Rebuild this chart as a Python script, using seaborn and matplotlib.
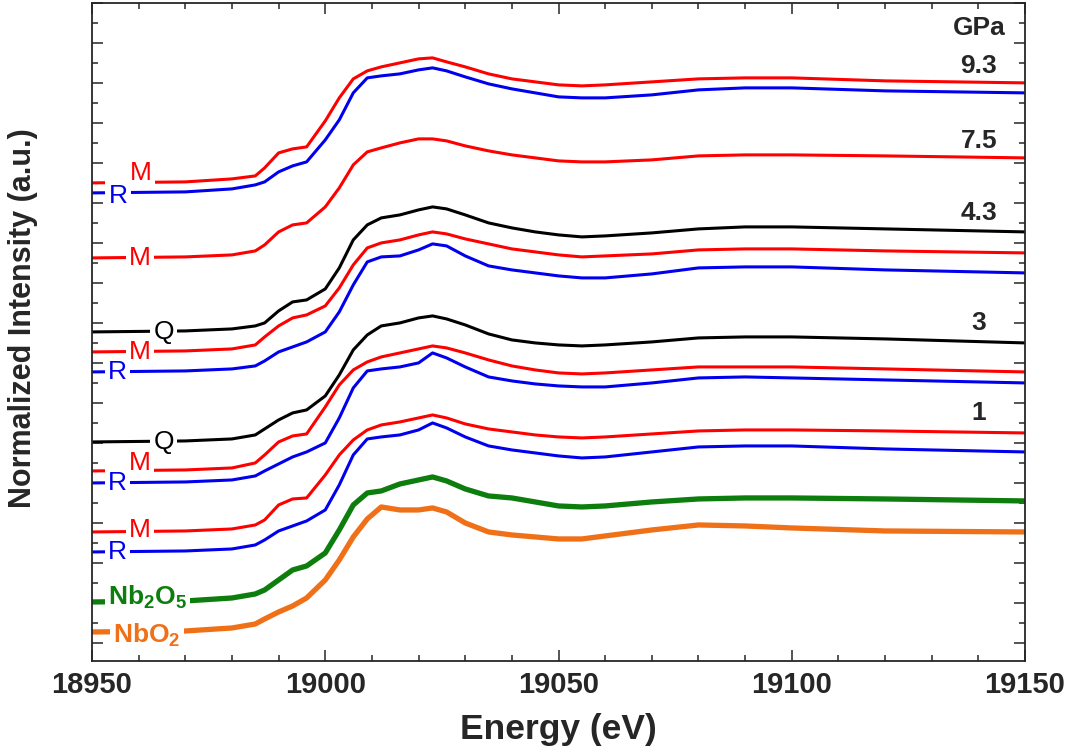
import numpy as np
import pandas as pd
import matplotlib
matplotlib.use("Agg")
import matplotlib.pyplot as plt
from matplotlib.ticker import MultipleLocator, NullFormatter
import seaborn as sns

# energy grid (eV)
energy = [18950, 18970, 18980, 18985, 18987, 18990, 18993, 18996, 19000, 19003, 19006,
          19009, 19012, 19016, 19020, 19023, 19026, 19030, 19035, 19040, 19045,
          19050, 19055, 19060, 19070, 19080, 19090, 19100, 19120, 19150]

# normalized intensity, already stacked with offsets
m_93 = [2.300, 2.305, 2.320, 2.335, 2.375, 2.450, 2.470, 2.480, 2.610, 2.725, 2.820, 2.860, 2.880, 2.900, 2.920, 2.925,
        2.905, 2.880, 2.845, 2.820, 2.805, 2.790, 2.785, 2.790, 2.805, 2.820, 2.825, 2.825, 2.810, 2.800]
r_93 = [2.250, 2.255, 2.270, 2.290, 2.305, 2.355, 2.385, 2.405, 2.515, 2.615, 2.750, 2.825, 2.835, 2.845, 2.865, 2.875,
        2.860, 2.830, 2.795, 2.770, 2.750, 2.730, 2.725, 2.725, 2.740, 2.765, 2.775, 2.775, 2.760, 2.750]
m_75 = [1.925, 1.930, 1.940, 1.960, 1.990, 2.055, 2.090, 2.100, 2.180, 2.275, 2.390, 2.455, 2.475, 2.500, 2.520, 2.520,
        2.510, 2.485, 2.460, 2.440, 2.425, 2.410, 2.405, 2.405, 2.415, 2.435, 2.440, 2.440, 2.435, 2.425]
q_43 = [1.555, 1.560, 1.570, 1.585, 1.600, 1.660, 1.705, 1.715, 1.770, 1.875, 2.015, 2.090, 2.125, 2.140, 2.165, 2.180,
        2.170, 2.140, 2.100, 2.075, 2.055, 2.040, 2.030, 2.035, 2.050, 2.070, 2.080, 2.080, 2.070, 2.055]
m_43 = [1.455, 1.460, 1.470, 1.490, 1.530, 1.585, 1.625, 1.640, 1.685, 1.775, 1.890, 1.975, 2.000, 2.015, 2.040, 2.055,
        2.045, 2.020, 1.995, 1.970, 1.955, 1.940, 1.930, 1.935, 1.945, 1.965, 1.970, 1.970, 1.960, 1.950]
r_43 = [1.355, 1.360, 1.370, 1.385, 1.410, 1.455, 1.480, 1.505, 1.555, 1.655, 1.790, 1.905, 1.930, 1.935, 1.965, 1.995,
        1.985, 1.935, 1.885, 1.865, 1.850, 1.835, 1.825, 1.825, 1.845, 1.875, 1.880, 1.880, 1.865, 1.850]
q_3 = [1.005, 1.010, 1.020, 1.040, 1.070, 1.115, 1.150, 1.165, 1.235, 1.340, 1.465, 1.540, 1.585, 1.600, 1.625, 1.635,
       1.620, 1.590, 1.545, 1.515, 1.500, 1.490, 1.485, 1.490, 1.505, 1.525, 1.530, 1.530, 1.520, 1.500]
m_3 = [0.860, 0.865, 0.875, 0.900, 0.940, 1.005, 1.035, 1.045, 1.180, 1.290, 1.365, 1.405, 1.430, 1.450, 1.470, 1.485,
       1.475, 1.450, 1.415, 1.385, 1.365, 1.350, 1.345, 1.350, 1.365, 1.380, 1.380, 1.380, 1.370, 1.355]
r_3 = [0.800, 0.805, 0.815, 0.835, 0.860, 0.895, 0.930, 0.955, 1.000, 1.125, 1.275, 1.360, 1.370, 1.380, 1.400, 1.450,
       1.425, 1.380, 1.330, 1.310, 1.295, 1.285, 1.280, 1.280, 1.300, 1.325, 1.330, 1.325, 1.315, 1.300]
m_1 = [0.555, 0.560, 0.570, 0.590, 0.615, 0.690, 0.720, 0.725, 0.840, 0.940, 1.015, 1.065, 1.090, 1.105, 1.125, 1.140,
       1.125, 1.095, 1.070, 1.055, 1.040, 1.030, 1.025, 1.030, 1.045, 1.060, 1.065, 1.065, 1.060, 1.050]
r_1 = [0.455, 0.460, 0.470, 0.490, 0.515, 0.560, 0.585, 0.610, 0.665, 0.790, 0.940, 1.020, 1.030, 1.040, 1.065, 1.100,
       1.075, 1.030, 0.985, 0.965, 0.950, 0.935, 0.925, 0.930, 0.955, 0.980, 0.985, 0.985, 0.970, 0.955]
nb2o5 = [0.205, 0.210, 0.225, 0.245, 0.265, 0.315, 0.365, 0.385, 0.450, 0.565, 0.690, 0.750, 0.760, 0.795, 0.815, 0.830,
         0.810, 0.770, 0.735, 0.725, 0.705, 0.685, 0.680, 0.685, 0.705, 0.720, 0.725, 0.725, 0.720, 0.710]
nbo2 = [0.055, 0.060, 0.075, 0.095, 0.120, 0.155, 0.185, 0.225, 0.315, 0.415, 0.530, 0.620, 0.680, 0.665, 0.665, 0.675,
        0.655, 0.600, 0.555, 0.540, 0.530, 0.520, 0.520, 0.535, 0.565, 0.590, 0.585, 0.575, 0.560, 0.555]

RED = "#ff0000"
BLUE = "#0000ee"
BLACK = "#000000"
GREEN = "#0d7d0d"
ORANGE = "#f07018"

curves = [
    (m_93, RED, 2.2), (r_93, BLUE, 2.2), (m_75, RED, 2.2),
    (q_43, BLACK, 2.2), (m_43, RED, 2.2), (r_43, BLUE, 2.2),
    (q_3, BLACK, 2.2), (m_3, RED, 2.2), (r_3, BLUE, 2.2),
    (m_1, RED, 2.2), (r_1, BLUE, 2.2),
    (nb2o5, GREEN, 3.8), (nbo2, ORANGE, 3.8),
]

# phase labels on the left: (text, energy, intensity, colour)
left_labels = [
    ("M", 18960.5, 2.35, RED), ("R", 18955.6, 2.235, BLUE),
    ("M", 18960.3, 1.925, RED),
    ("Q", 18965.4, 1.555, BLACK), ("M", 18960.3, 1.455, RED), ("R", 18955.4, 1.355, BLUE),
    ("Q", 18965.4, 1.005, BLACK), ("M", 18960.3, 0.90, RED), ("R", 18955.4, 0.80, BLUE),
    ("M", 18960.3, 0.565, RED), ("R", 18955.4, 0.455, BLUE),
]
pressures = ["GPa", "9.3", "7.5", "4.3", "3", "1"]
pressure_y = [3.075, 2.885, 2.51, 2.15, 1.60, 1.15]

sns.set_style("ticks")
plt.rcParams["font.family"] = ["Liberation Sans", "DejaVu Sans"]
plt.rcParams["mathtext.fontset"] = "custom"
plt.rcParams["mathtext.rm"] = "Liberation Sans:bold"
plt.rcParams["mathtext.bf"] = "Liberation Sans:bold"
plt.rcParams["mathtext.default"] = "bf"

fig = plt.figure(figsize=(10.7, 7.53), dpi=100)
ax = fig.add_axes([0.086, 0.1222, 0.872, 0.874])

for vals, col, lw in curves:
    sns.lineplot(x=energy, y=vals, color=col, linewidth=lw, ax=ax,
                 solid_joinstyle="round", solid_capstyle="butt")

box = dict(boxstyle="square,pad=0.12", fc="white", ec="none")
for txt, e, yv, col in left_labels:
    ax.text(e, yv, txt, color=col, fontsize=19, ha="center", va="center", bbox=box, zorder=4)

ax.text(18953.4, 0.19, r"Nb$_2$O$_5$", color=GREEN, fontsize=19, fontweight="bold",
        ha="left", va="baseline", bbox=box, zorder=4)
ax.text(18954.5, 0.0, r"NbO$_2$", color=ORANGE, fontsize=19, fontweight="bold",
        ha="left", va="baseline", bbox=box, zorder=4)

for txt, yv in zip(pressures, pressure_y):
    ax.text(19140.1, yv, txt, fontsize=19, fontweight="bold", ha="center", va="center")

ax.set_xlim(18950, 19150)
ax.set_ylim(-0.09, 3.2)
ax.xaxis.set_major_locator(MultipleLocator(50))
ax.xaxis.set_minor_locator(MultipleLocator(10))
ax.yaxis.set_major_locator(MultipleLocator(0.2))
ax.yaxis.set_minor_locator(MultipleLocator(0.1))
ax.yaxis.set_major_formatter(NullFormatter())
ax.tick_params(which="both", direction="in", top=True, right=True, width=1.1)
ax.tick_params(which="major", length=8, labelsize=21, pad=7)
ax.tick_params(which="minor", length=4.5)
for lab in ax.get_xticklabels():
    lab.set_fontweight("bold")
for sp in ax.spines.values():
    sp.set_linewidth(1.3)

ax.set_xlabel("Energy (eV)", fontsize=25.5, fontweight="bold", labelpad=10)
ax.set_ylabel("Normalized Intensity (a.u.)", fontsize=22, fontweight="bold")
ax.yaxis.set_label_coords(-0.058, 0.521)

fig.savefig("out.png", dpi=100)
